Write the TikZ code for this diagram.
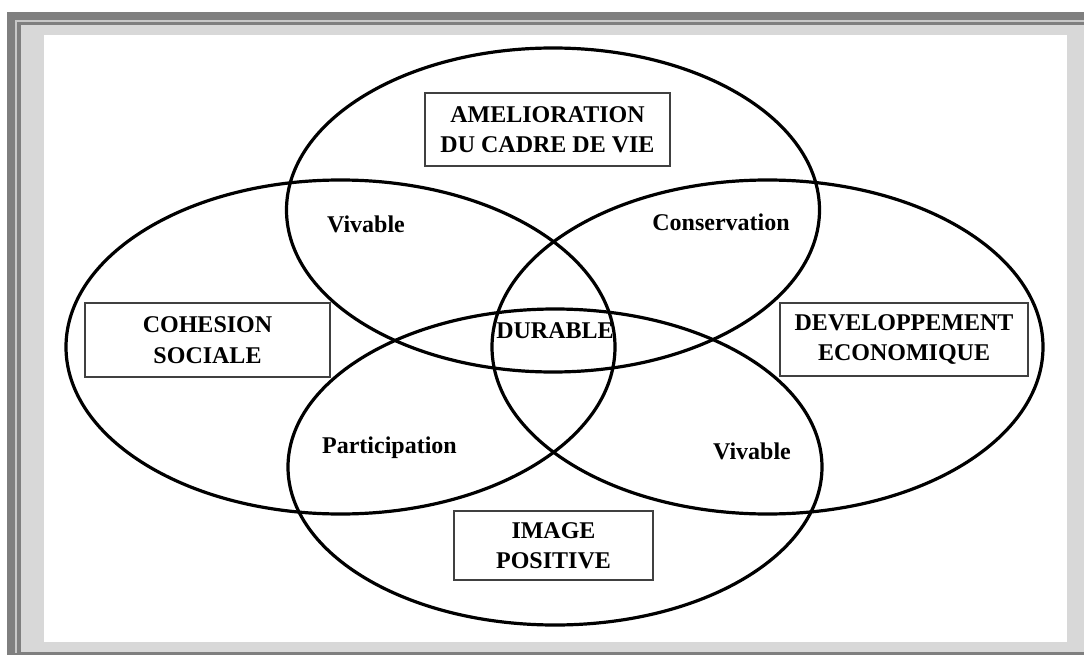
\documentclass[tikz,border=0pt]{standalone}
\usepackage{fontspec}
\setmainfont{Liberation Serif}
\definecolor{framedark}{HTML}{7F7F7F}
\definecolor{framelight}{HTML}{C8C8C8}
\definecolor{framebg}{HTML}{D8D8D8}
\definecolor{boxline}{HTML}{404040}
\tikzset{
  lab/.style={font=\bfseries\fontsize{24}{30}\selectfont, anchor=base, inner sep=0pt},
  boxed/.style={draw=boxline, line width=1.8pt, fill=white, inner sep=0pt, align=center,
                font=\bfseries\fontsize{24}{30.5}\selectfont},
  ring/.style={draw=black, line width=3.2pt}
}
\begin{document}
\begin{tikzpicture}[x=1pt, y=-1pt]
\useasboundingbox (0,0) rectangle (1084,655);
% frame
\fill[white] (0,0) rectangle (1084,655);
\fill[framedark] (7.3,12) rectangle (1084,655);
\fill[framelight] (15.3,20) rectangle (1084,652.5);
\fill[framedark] (17.3,22) rectangle (1084,652.5);
\fill[framebg] (20.7,25) rectangle (1084,652);
\fill[white] (44,35) rectangle (1067,642);
% ellipses
\draw[ring] (553,210) ellipse [x radius=266.5, y radius=162];
\draw[ring] (340.5,347) ellipse [x radius=274.5, y radius=167];
\draw[ring] (767.5,347) ellipse [x radius=275.5, y radius=167];
\draw[ring] (555,467) ellipse [x radius=267, y radius=158];
% boxes
\node[boxed, minimum width=245pt, minimum height=73pt] (amel) at (547.5,129.5) {AMELIORATION\\DU CADRE DE VIE};
\node[boxed, minimum width=245pt, minimum height=74pt] (cohes) at (207.5,340) {COHESION\\SOCIALE};
\node[boxed, minimum width=248pt, minimum height=73pt] (devel) at (904,339.5) {DEVELOPPEMENT\\ECONOMIQUE};
\node[boxed, minimum width=199pt, minimum height=69pt] (image) at (553.5,545.5) {IMAGE\\POSITIVE};
% labels
\node[lab] (viv1) at (366,233) {Vivable};
\node[lab] (cons) at (721,230) {Conservation};
\node[lab] (dur) at (555,338) {DURABLE};
\node[lab] (part) at (389.5,453) {Participation};
\node[lab] (viv2) at (752,459) {Vivable};
\end{tikzpicture}
\end{document}
